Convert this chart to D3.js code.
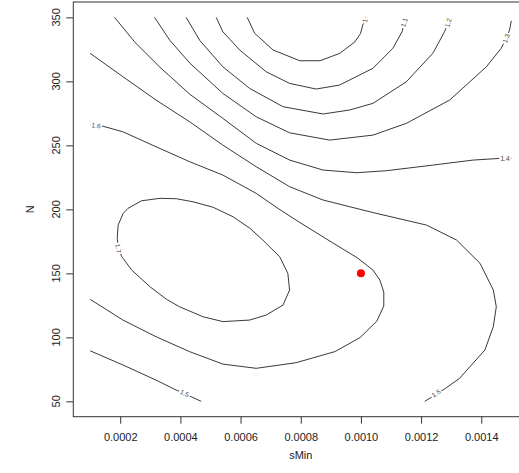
<!DOCTYPE html>
<html><head><meta charset="utf-8">
<script src="https://cdn.jsdelivr.net/npm/d3@7"></script>
<style>html,body{margin:0;padding:0;background:#fff}svg{display:block}</style>
</head><body>
<svg id="c" width="519" height="473"></svg>
<script>
// ---- data ----
const sMinTicks = [0.0002,0.0004,0.0006,0.0008,0.0010,0.0012,0.0014];
const nTicks = [50,100,150,200,250,300,350];
const sMinRange = [0.0001, 0.0015];
const nRange = [50, 350];
const bestPoint = [0.0010, 150];

// contour lines: [sMin, N]
const line_1 = [[0.000622,350],[0.000647,337.5],[0.000708,324.5],[0.000797,316.1],[0.000864,316.1],[0.000930,321.9],[0.000980,330.9],[0.000999,337.5],[0.001006,344.0],[0.001013,347.5],[0.001015,350]];
const line_11 = [[0.000519,350],[0.000541,338.8],[0.000597,324.5],[0.000685,307.5],[0.000763,298.4],[0.000851,294.0],[0.000929,297.1],[0.001040,310.2],[0.001106,325.8],[0.001137,338.8],[0.001144,346],[0.001147,350]];
const line_12 = [[0.000419,350],[0.000465,331.8],[0.000541,311.4],[0.000630,294.5],[0.000741,280.2],[0.000874,274.5],[0.000962,277.6],[0.001040,282.8],[0.001151,299.7],[0.001239,321.9],[0.001278,338.8],[0.001290,345.8],[0.001293,350]];
const line_13 = [[0.000314,350],[0.000365,332.0],[0.000432,314.1],[0.000541,290.6],[0.000652,272.3],[0.000763,259.8],[0.000896,254.1],[0.001040,258.0],[0.001151,267.2],[0.001295,285.4],[0.001417,311.4],[0.001466,325.8],[0.001483,333.6],[0.001494,340.1],[0.0015,347.3]];
const line_14 = [[0.000181,350],[0.000249,330.5],[0.000332,311.0],[0.000432,289.8],[0.000541,271.1],[0.000652,251.6],[0.000763,238.5],[0.000874,230.7],[0.000986,228.6],[0.001085,230.2],[0.001240,234.6],[0.001373,238.5],[0.001461,239.8],[0.0015,239.9]];
const line_15a = [[0.000100,321.9],[0.000209,303.6],[0.000319,285.4],[0.000431,268.4],[0.000541,250.2],[0.000652,233.3],[0.000763,217.7],[0.000874,207.3],[0.001040,197.5],[0.001218,187.7],[0.001318,176.0],[0.001396,157.8],[0.001440,137.0],[0.001450,123.9],[0.001440,108.3],[0.001412,90.1],[0.001328,68.0],[0.001273,58.8],[0.001250,56.3],[0.001233,53.0],[0.001212,50]];
const line_15b = [[0.000100,89.5],[0.000209,78.4],[0.000319,66.6],[0.000386,58.8],[0.000414,56.3],[0.000438,53.4],[0.000469,50]];
const line_16 = [[0.000100,266],[0.000140,265.1],[0.000209,260.6],[0.000319,248.9],[0.000431,237.2],[0.000541,226.8],[0.000652,212.5],[0.000724,200.8],[0.000797,189.7],[0.000907,173.7],[0.000987,162.3],[0.001040,152.6],[0.001063,144.8],[0.001076,135.4],[0.001076,124.5],[0.001053,112.7],[0.000997,99.8],[0.000914,88.9],[0.000785,80.2],[0.000652,75.8],[0.000541,79.1],[0.000431,88.8],[0.000319,100.5],[0.000209,113.5],[0.000100,129.7]];
const line_17 = [[0.000205,163.1],[0.000238,152.6],[0.000299,139.5],[0.000354,129.7],[0.000397,123.9],[0.000475,116.1],[0.000541,112.3],[0.000630,113.5],[0.000685,117.4],[0.000741,125.2],[0.000763,137.0],[0.000757,150.0],[0.000730,163.0],[0.000674,176.0],[0.000631,185.2],[0.000575,194.2],[0.000509,201.6],[0.000442,205.9],[0.000387,208.3],[0.000332,208.6],[0.000271,206.7],[0.000226,200.8],[0.000210,196.9],[0.000193,187.7],[0.000190,177.3],[0.000194,169.5],[0.000205,163.1]];

const contourLines = [line_1, line_11, line_12, line_13, line_14, line_15a, line_15b, line_16, line_17];
const contourLabels = ["1","1.1","1.2","1.3","1.4","1.5","1.5","1.6","1.7"];
const labelAt = [[0.001013,347.5],[0.001144,346],[0.001290,345.8],[0.001483,333.6],[0.001479,239.8],[0.001250,56.3],[0.000414,56.3],[0.000120,265.5],[0.000194,169.5]];
const labelAngle = [-76,-72,-75,-70,0,-33,24,8,80];

// ---- drawing ----
const svg = d3.select("#c");
const font = "'Liberation Sans', Arial, Helvetica, sans-serif";
const padX = 0.04*(sMinRange[1]-sMinRange[0]);
const padY = 0.04*(nRange[1]-nRange[0]);
const x = d3.scaleLinear().domain([sMinRange[0]-padX, sMinRange[1]+padX]).range([73.3, 528.2]);
const y = d3.scaleLinear().domain([nRange[0]-padY, nRange[1]+padY]).range([416.7, 2.0]);

const line = d3.line().x(d=>x(d[0])).y(d=>y(d[1]));

const g = svg.append("g");
contourLines.forEach(pts=>{
  g.append("path").attr("d", line(pts)).attr("fill","none")
   .attr("stroke","#222").attr("stroke-width",0.9);
});

// labels with white background (line break)
contourLabels.forEach((t,i)=>{
  const px = x(labelAt[i][0]), py = y(labelAt[i][1]);
  const lg = svg.append("g").attr("transform",`translate(${px},${py}) rotate(${labelAngle[i]})`);
  const txt = lg.append("text").text(t).attr("text-anchor","middle").attr("dy","0.35em")
    .attr("font-family",font).attr("font-size",6.6).attr("fill","#444");
  const w = txt.node().getComputedTextLength();
  lg.insert("rect","text").attr("x",-w/2-1.2).attr("y",-3.2).attr("width",w+2.4).attr("height",6.4).attr("fill","#fff");
});

// best point
svg.append("circle").attr("cx",x(bestPoint[0])).attr("cy",y(bestPoint[1])).attr("r",4).attr("fill","#ff0000");

// box
svg.append("rect").attr("x",73.3).attr("y",2.0).attr("width",528.2-73.3).attr("height",416.7-2.0)
  .attr("fill","none").attr("stroke","#333").attr("stroke-width",1);

// x axis
const xa = svg.append("g").attr("transform","translate(0,416.7)")
  .call(d3.axisBottom(x).tickValues(sMinTicks).tickFormat(d3.format(".4f")).tickSize(7).tickPadding(10));
xa.select(".domain").remove();
xa.selectAll("line").attr("stroke","#333");
xa.selectAll("text").attr("font-family",font).attr("font-size",11).attr("fill","#222");

// y axis
const ya = svg.append("g").attr("transform","translate(73.3,0)")
  .call(d3.axisLeft(y).tickValues(nTicks).tickSize(7).tickFormat(""));
ya.select(".domain").remove();
ya.selectAll("line").attr("stroke","#333");
svg.append("g").selectAll("text").data(nTicks).join("text")
  .attr("transform",d=>`translate(60,${y(d)}) rotate(-90)`)
  .attr("text-anchor","middle").attr("font-family",font).attr("font-size",11).attr("fill","#222")
  .text(d=>d);

// titles
svg.append("text").attr("x",(73.3+528.2)/2).attr("y",459).attr("text-anchor","middle")
  .attr("font-family",font).attr("font-size",11).attr("fill","#222").text("sMin");
svg.append("text").attr("transform",`translate(34,${(416.7+2)/2}) rotate(-90)`).attr("text-anchor","middle")
  .attr("font-family",font).attr("font-size",11).attr("fill","#222").text("N");
</script>
</body></html>
